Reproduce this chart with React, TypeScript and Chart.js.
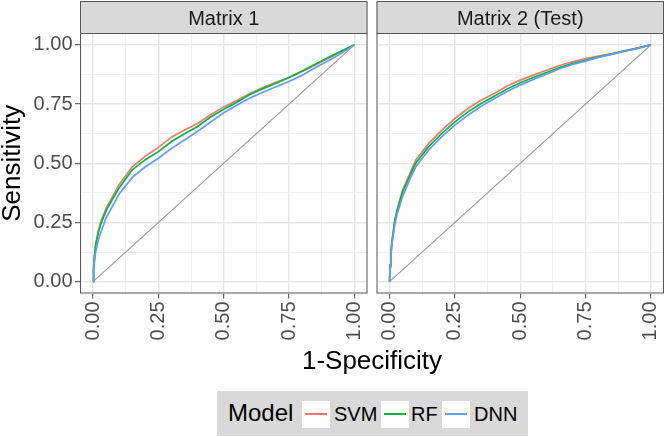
import React, { useEffect, useRef } from "react";
import { Chart, registerables } from "chart.js";

Chart.register(...registerables);

const PANELS = ["Matrix 1", "Matrix 2 (Test)"];
const MODELS = ["SVM", "RF", "DNN"];
const MODEL_COLORS = ["#F8766D", "#00BA38", "#619CFF"];
const TICKS = [0, 0.125, 0.25, 0.375, 0.5, 0.625, 0.75, 0.875, 1];

const FPR = [0, 0.002, 0.005, 0.01, 0.02, 0.03, 0.05, 0.075, 0.1, 0.15, 0.2, 0.25, 0.3, 0.35, 0.4, 0.45, 0.5, 0.55, 0.6, 0.65, 0.7, 0.75, 0.8, 0.85, 0.9, 0.95, 1];

const M1_SVM = [0, 0.055, 0.1, 0.16, 0.215, 0.255, 0.31, 0.36, 0.41, 0.485, 0.53, 0.567, 0.61, 0.64, 0.668, 0.705, 0.738, 0.765, 0.795, 0.82, 0.842, 0.862, 0.888, 0.915, 0.943, 0.971, 1];
const M1_RF = [0, 0.055, 0.1, 0.155, 0.205, 0.245, 0.3, 0.35, 0.397, 0.472, 0.515, 0.549, 0.592, 0.625, 0.655, 0.695, 0.728, 0.758, 0.79, 0.815, 0.838, 0.862, 0.89, 0.918, 0.947, 0.974, 1];
const M1_DNN = [0, 0.045, 0.08, 0.125, 0.175, 0.21, 0.27, 0.32, 0.37, 0.44, 0.485, 0.521, 0.563, 0.598, 0.635, 0.674, 0.713, 0.745, 0.776, 0.8, 0.823, 0.845, 0.872, 0.903, 0.933, 0.964, 1];

const M2_SVM = [0, 0.07, 0.12, 0.18, 0.26, 0.31, 0.387, 0.45, 0.513, 0.584, 0.64, 0.689, 0.731, 0.766, 0.795, 0.826, 0.851, 0.872, 0.893, 0.913, 0.928, 0.942, 0.952, 0.963, 0.976, 0.987, 1];
const M2_RF = [0, 0.07, 0.12, 0.175, 0.255, 0.305, 0.38, 0.44, 0.5, 0.57, 0.626, 0.675, 0.717, 0.752, 0.783, 0.814, 0.84, 0.862, 0.883, 0.904, 0.921, 0.935, 0.949, 0.961, 0.974, 0.986, 1];
const M2_DNN = [0, 0.06, 0.11, 0.165, 0.24, 0.29, 0.36, 0.425, 0.485, 0.556, 0.612, 0.661, 0.703, 0.741, 0.772, 0.803, 0.83, 0.854, 0.876, 0.899, 0.917, 0.931, 0.947, 0.96, 0.973, 0.985, 1];

const DIAG = [0, 1];

const PANEL_DATA = [
  [M1_SVM, M1_RF, M1_DNN],
  [M2_SVM, M2_RF, M2_DNN],
];

const FONT = "'Liberation Sans', Arial, Helvetica, sans-serif";

const isMajor = (v: number) => Math.abs(v * 4 - Math.round(v * 4)) < 1e-6;

function makeConfig(panel: number): any {
  const series = PANEL_DATA[panel];
  const datasets: any[] = series.map((vals, i) => ({
    label: MODELS[i],
    data: FPR.map((x, j) => ({ x, y: vals[j] })),
    borderColor: MODEL_COLORS[i],
    borderWidth: 1.7,
    pointRadius: 0,
    tension: 0,
    fill: false,
    order: 3 - i,
  }));
  datasets.push({
    label: "diag",
    data: DIAG.map((v) => ({ x: v, y: v })),
    borderColor: "#999999",
    borderWidth: 1.2,
    pointRadius: 0,
    fill: false,
    order: 10,
  });

  const stripPlugin = {
    id: "strip" + panel,
    beforeDraw(chart: any) {
      const { ctx, chartArea } = chart;
      ctx.save();
      ctx.fillStyle = "#ffffff";
      ctx.fillRect(chartArea.left, chartArea.top, chartArea.right - chartArea.left, chartArea.bottom - chartArea.top);
      const top = 1;
      ctx.fillStyle = "#d9d9d9";
      ctx.fillRect(chartArea.left, top, chartArea.right - chartArea.left, chartArea.top - top);
      ctx.strokeStyle = "#555555";
      ctx.lineWidth = 1;
      ctx.strokeRect(chartArea.left + 0.5, top + 0.5, chartArea.right - chartArea.left - 1, chartArea.top - top);
      ctx.fillStyle = "#1a1a1a";
      ctx.font = `20px ${FONT}`;
      ctx.textAlign = "center";
      ctx.textBaseline = "alphabetic";
      ctx.fillText(PANELS[panel], (chartArea.left + chartArea.right) / 2, 25);
      ctx.restore();
    },
    afterDraw(chart: any) {
      const { ctx, chartArea } = chart;
      ctx.save();
      ctx.strokeStyle = "#555555";
      ctx.lineWidth = 1;
      ctx.strokeRect(chartArea.left + 0.5, chartArea.top + 0.5, chartArea.right - chartArea.left - 1, chartArea.bottom - chartArea.top - 1);
      ctx.restore();
    },
  };

  const gridOpts = {
    color: (c: any) => (c.tick && isMajor(c.tick.value) ? "#e6e6e6" : "#eeeeee"),
    lineWidth: (c: any) => (c.tick && isMajor(c.tick.value) ? 1.4 : 0.8),
    tickColor: (c: any) => (c.tick && isMajor(c.tick.value) ? "#444444" : "rgba(0,0,0,0)"),
    tickWidth: 1,
    tickLength: 5,
  };

  return {
    type: "line",
    data: { datasets },
    options: {
      animation: false,
      responsive: false,
      maintainAspectRatio: false,
      layout: {
        padding: panel === 0 ? { left: 0, right: 2.5, top: 33, bottom: 0 } : { left: 6.5, right: 2, top: 33, bottom: 0 },
      },
      plugins: {
        legend: { display: false },
        tooltip: { enabled: false },
      },
      scales: {
        x: {
          type: "linear",
          min: -0.05,
          max: 1.05,
          afterBuildTicks: (scale: any) => {
            scale.ticks = TICKS.map((v) => ({ value: v }));
          },
          afterFit: (scale: any) => {
            scale.height = 56.5;
            scale.paddingLeft = 0;
            scale.paddingRight = 0;
          },
          border: { display: false },
          grid: gridOpts,
          ticks: {
            autoSkip: false,
            minRotation: 90,
            maxRotation: 90,
            padding: 3,
            color: "#4d4d4d",
            font: { family: FONT, size: 20 },
            callback: (v: any) => (isMajor(Number(v)) ? Number(v).toFixed(2) : ""),
          },
        },
        y: {
          type: "linear",
          min: -0.05,
          max: 1.05,
          afterBuildTicks: (scale: any) => {
            scale.ticks = TICKS.map((v) => ({ value: v }));
          },
          afterFit: (scale: any) => {
            scale.width = panel === 0 ? 80 : 0;
            scale.paddingTop = 0;
            scale.paddingBottom = 0;
          },
          border: { display: false },
          grid: panel === 0 ? gridOpts : { ...gridOpts, drawTicks: false },
          title: {
            display: panel === 0,
            text: "Sensitivity",
            color: "#000000",
            font: { family: FONT, size: 26, lineHeight: 0.95 },
            padding: 0,
          },
          ticks: {
            display: panel === 0,
            autoSkip: false,
            padding: 2.5,
            color: "#4d4d4d",
            font: { family: FONT, size: 20 },
            callback: (v: any) => (isMajor(Number(v)) ? Number(v).toFixed(2) : ""),
          },
        },
      },
    },
    plugins: [stripPlugin],
  };
}

function Panel({ panel, left, width }: { panel: number; left: number; width: number }) {
  const ref = useRef<HTMLCanvasElement | null>(null);
  useEffect(() => {
    if (!ref.current) return;
    const chart = new Chart(ref.current, makeConfig(panel));
    return () => chart.destroy();
  }, [panel]);
  return (
    <canvas
      ref={ref}
      width={width}
      height={350}
      style={{ position: "absolute", left, top: 0, width, height: 350 }}
    />
  );
}

function LegendKey({ left, color }: { left: number; color: string }) {
  return (
    <div style={{ position: "absolute", left, top: 400.5, width: 28, height: 27, background: "#ffffff" }}>
      <div style={{ position: "absolute", left: 3, right: 3, top: 12.5, height: 1.6, background: color }} />
    </div>
  );
}

export default function App() {
  const txt = (left: number, top: number, size: number, text: string) => (
    <div
      style={{
        position: "absolute",
        left,
        top,
        fontFamily: FONT,
        fontSize: size,
        lineHeight: `${size}px`,
        color: "#000000",
        whiteSpace: "nowrap",
      }}
    >
      {text}
    </div>
  );
  return (
    <div style={{ position: "absolute", left: 0, top: 0, width: 666, height: 437, background: "#ffffff", overflow: "hidden" }}>
      <Panel panel={0} left={0} width={370} />
      <Panel panel={1} left={370} width={296} />
      <div
        style={{
          position: "absolute",
          left: 222,
          width: 300,
          top: 347,
          textAlign: "center",
          fontFamily: FONT,
          fontSize: 26,
          lineHeight: "26px",
          color: "#000000",
        }}
      >
        1-Specificity
      </div>
      <div style={{ position: "absolute", left: 217, top: 391, width: 311, height: 45, background: "#d9d9d9" }} />
      {txt(228, 400.5, 24, "Model")}
      <LegendKey left={302} color={MODEL_COLORS[0]} />
      {txt(334, 404, 20, MODELS[0])}
      <LegendKey left={381} color={MODEL_COLORS[1]} />
      {txt(411, 404, 20, MODELS[1])}
      <LegendKey left={442} color={MODEL_COLORS[2]} />
      {txt(474, 404, 20, MODELS[2])}
    </div>
  );
}
